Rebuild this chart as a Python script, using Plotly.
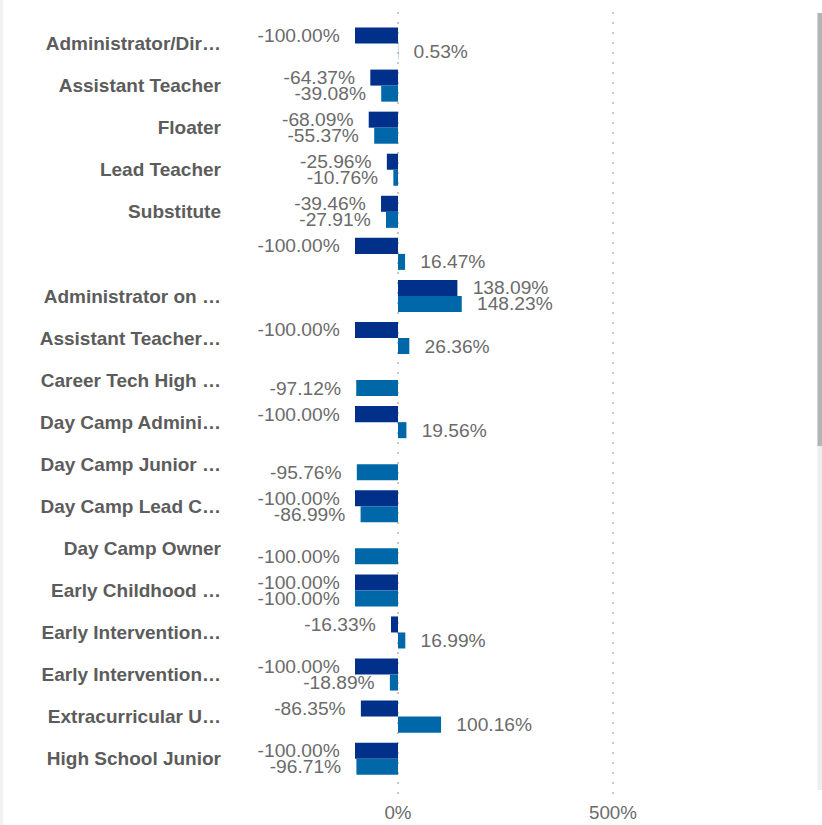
import plotly.graph_objects as go

categories = [
    "Administrator/Dir…", "Assistant Teacher", "Floater", "Lead Teacher", "Substitute", "",
    "Administrator on …", "Assistant Teacher…", "Career Tech High …", "Day Camp Admini…",
    "Day Camp Junior …", "Day Camp Lead C…", "Day Camp Owner", "Early Childhood …",
    "Early Intervention…", "Early Intervention…", "Extracurricular U…", "High School Junior",
]
series_a = [-100.00, -64.37, -68.09, -25.96, -39.46, -100.00, 138.09, -100.00, None, -100.00,
            None, -100.00, None, -100.00, -16.33, -100.00, -86.35, -100.00]
series_b = [0.53, -39.08, -55.37, -10.76, -27.91, 16.47, 148.23, 26.36, -97.12, 19.56,
            -95.76, -86.99, -100.00, -100.00, 16.99, -18.89, 100.16, -96.71]
x_ticks = [0, 500]
x_tick_labels = ["0%", "500%"]

NAVY = "#00308A"
BLUE = "#0068A8"
PAD = "\u00a0\u00a0\u200a"


def labels(vals):
    out = []
    for v in vals:
        if v is None:
            out.append("")
        elif v < 0:
            out.append(f"{v:.2f}%" + PAD)
        else:
            out.append(PAD + f"{v:.2f}%")
    return out


rows = list(range(len(categories)))
FONT = "Liberation Sans, Arial, sans-serif"

fig = go.Figure()
for vals, color in [(series_a, NAVY), (series_b, BLUE)]:
    fig.add_trace(go.Bar(
        y=rows, x=vals, orientation="h", marker=dict(color=color, line=dict(width=0)),
        text=labels(vals), textposition="outside", constraintext="none", cliponaxis=False,
        textfont=dict(family=FONT, size=19.2, color="#6b6b6b"),
        hoverinfo="skip", showlegend=False,
    ))

W, H = 822, 825
L, R, T, B = 230, 22, 12, 31
pw, ph = W - L - R, H - T - B
scale = 215 / 500.0
zero_px = 398
r0 = -(zero_px - L) / scale
r1 = r0 + pw / scale


def px(x):
    return (x - L) / pw


def py(y):
    return (H - B - y) / ph


shapes = [
    dict(type="rect", xref="paper", yref="paper", x0=px(0), x1=px(3), y0=py(825), y1=py(0),
         fillcolor="#f2f2f2", line=dict(width=0), layer="below"),
    dict(type="rect", xref="paper", yref="paper", x0=px(817.5), x1=px(822), y0=py(790), y1=py(13),
         fillcolor="#eeeeee", line=dict(width=0)),
    dict(type="rect", xref="paper", yref="paper", x0=px(817.5), x1=px(822), y0=py(446), y1=py(13),
         fillcolor="#b4b4b4", line=dict(width=0)),
]

fig.update_layout(
    width=W, height=H, margin=dict(l=L, r=R, t=T, b=B, autoexpand=False),
    barmode="group", bargap=0.238, bargroupgap=0,
    plot_bgcolor="white", paper_bgcolor="white",
    font=dict(family=FONT),
    shapes=shapes,
    xaxis=dict(range=[r0, r1], tickvals=x_ticks, ticktext=x_tick_labels, automargin=False,
               showgrid=True, gridcolor="#c9c9c9", gridwidth=2, griddash="2px,8px",
               zeroline=False, showline=False, ticks="", ticklabelstandoff=5,
               tickfont=dict(family=FONT, size=18.8, color="#6b6b6b")),
    yaxis=dict(range=[17.84, -0.75], tickvals=rows, ticktext=categories, automargin=False,
               showgrid=False, zeroline=False, showline=False, ticks="",
               ticklabelstandoff=8,
               tickfont=dict(family=FONT, size=19, color="#5c5c5c", weight="bold")),
)

fig.write_html(
    "out.html",
    config={"displayModeBar": False, "staticPlot": True},
    post_script="document.body.style.margin='0';document.body.style.overflow='hidden';",
)
